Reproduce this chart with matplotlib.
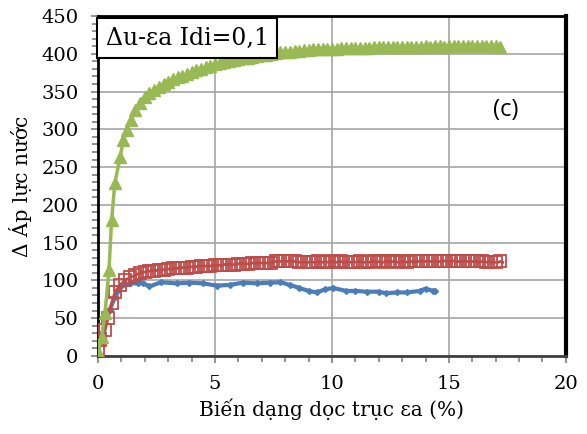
import matplotlib; matplotlib.use("Agg")
import matplotlib.pyplot as plt
import numpy as np
from matplotlib.ticker import MultipleLocator

# strain (%) vs excess pore pressure (kPa)
blue_x = [0, 0.2, 0.5, 0.73, 1.0, 1.37, 1.7, 1.94, 2.2, 2.7, 3.36, 3.9, 4.5, 5.07, 5.64,
          6.2, 6.8, 7.35, 7.8, 8.2, 8.6, 9.0, 9.35, 9.7, 10.05, 10.6, 11.0, 11.5, 12.0,
          12.3, 12.8, 13.2, 13.76, 14.0, 14.33, 14.4]
blue_y = [5, 32, 61, 78, 92, 96, 96, 96, 92, 97.5, 96, 97, 96, 93, 94,
          97, 96, 97, 97.5, 94, 90, 86, 84, 88, 90, 86, 86, 85, 85,
          83, 84, 84, 86, 89, 86, 86]

# early (sparse) readings, then readings every 0.1 % from 2.0 % on
red_x0 = [0, 0.08, 0.3, 0.43, 0.58, 0.73, 0.94, 1.15, 1.37, 1.6, 1.8]
red_y0 = [8, 21, 34, 50, 70, 85, 94, 100, 104, 107, 110]
red_y1 = [111, 112, 112, 113, 113, 113, 114, 114, 114, 115,
          115, 115, 116, 116, 116, 117, 117, 117, 117, 118,
          118, 118, 118, 119, 119, 119, 119, 119, 119, 120,
          120, 120, 120, 120, 121, 121, 121, 121, 121, 121,
          122, 122, 122, 122, 122, 122, 123, 123, 123, 123,
          123, 123, 123, 123, 123, 125, 125, 126, 125, 125,
          125, 125, 126, 125, 125, 125, 124, 124, 124, 124,
          124, 125, 124, 124, 125, 124, 124, 125, 124, 124,
          125, 124, 124, 125, 125, 124, 124, 125, 124, 125,
          124, 125, 125, 124, 124, 125, 124, 125, 125, 124,
          125, 124, 124, 125, 125, 124, 125, 125, 124, 124,
          125, 125, 124, 125, 125, 124, 125, 125, 126, 125,
          125, 126, 125, 125, 126, 125, 125, 125, 126, 125,
          125, 125, 126, 125, 125, 125, 125, 126, 125, 125,
          125, 125, 125, 124, 125, 125, 124, 125, 124, 124,
          124, 124, 125, 124]

green_x0 = [0, 0.16, 0.3, 0.47, 0.58, 0.72, 0.95, 1.08, 1.22, 1.4, 1.6, 1.8]
green_y0 = [5, 25, 57, 114, 180, 229, 264, 286, 299, 312, 325, 335]
green_y1 = [343, 346, 348, 350, 352, 354, 356, 358, 360, 361,
            363, 365, 366, 367, 369, 370, 371, 372, 373, 374,
            376, 377, 378, 379, 380, 381, 382, 383, 384, 385,
            386, 387, 388, 388, 389, 390, 390, 391, 392, 392,
            393, 393, 394, 395, 395, 396, 396, 397, 397, 398,
            398, 399, 399, 400, 400, 401, 401, 402, 402, 402,
            403, 403, 403, 404, 404, 404, 404, 405, 405, 405,
            405, 405, 406, 406, 406, 406, 406, 407, 407, 407,
            407, 407, 407, 407, 408, 408, 408, 408, 408, 408,
            408, 408, 408, 408, 408, 408, 408, 409, 409, 409,
            409, 409, 409, 409, 409, 409, 409, 409, 409, 409,
            409, 409, 409, 410, 409, 409, 409, 410, 409, 409,
            410, 409, 409, 410, 410, 409, 410, 410, 409, 410,
            410, 409, 410, 410, 410, 409, 410, 410, 410, 409,
            410, 410, 410, 409, 410, 410, 410, 409, 410, 410,
            410, 409, 409]

red_x = red_x0 + list(np.round(2.0 + 0.1 * np.arange(len(red_y1)), 2))
red_y = red_y0 + red_y1
green_x = green_x0 + list(np.round(2.0 + 0.1 * np.arange(len(green_y1)), 2))
green_y = green_y0 + green_y1

# markers on every reading early on, every second reading in the dense part
red_marks = list(range(len(red_x0))) + list(range(len(red_x0), len(red_x), 2))
green_marks = list(range(len(green_x0))) + list(range(len(green_x0), len(green_x), 2))

SERIF = "DejaVu Serif"

fig = plt.figure(figsize=(5.87, 4.34), dpi=100)
ax = fig.add_axes([0.167, 0.18, 0.797, 0.783])

ax.plot(blue_x, blue_y, color="#4a7ebb", lw=3, marker="D", ms=3, zorder=3)
ax.plot(red_x, red_y, color="#be4b48", lw=2, marker="s", ms=8.5, markevery=red_marks,
        mfc="none", mec="#be4b48", mew=1.3, zorder=4)
ax.plot(green_x, green_y, color="#98b954", lw=2.5, marker="^", ms=9, markevery=green_marks,
        mfc="#98b954", mec="#98b954", zorder=5)

ax.set_xlim(0, 20); ax.set_ylim(0, 450)
ax.xaxis.set_major_locator(MultipleLocator(5)); ax.xaxis.set_minor_locator(MultipleLocator(1))
ax.yaxis.set_major_locator(MultipleLocator(50)); ax.yaxis.set_minor_locator(MultipleLocator(10))
ax.grid(True, which="major", color="#a6a6a6", lw=1.2)
ax.set_axisbelow(True)
ax.tick_params(which="both", direction="out", color="#808080", width=1.2)
ax.tick_params(which="major", length=5, labelsize=14)
ax.tick_params(axis="x", which="major", pad=9)
ax.tick_params(axis="y", which="major", pad=9)
ax.tick_params(which="minor", length=4)
for lab in ax.get_xticklabels() + ax.get_yticklabels():
    lab.set_fontfamily(SERIF)
for s in ax.spines.values():
    s.set_color("black"); s.set_linewidth(2)
ax.spines["bottom"].set_color("#404040")
ax.spines["right"].set_linewidth(3)

ax.set_xlabel("Biến dạng dọc trục εa (%)", fontfamily=SERIF, fontsize=14.5, labelpad=4)
ax.set_ylabel("Δ Áp lực nước", fontfamily=SERIF, fontsize=14.5, labelpad=7)

ax.text(0.016, 0.968, "Δu-εa Idi=0,1", transform=ax.transAxes, fontfamily=SERIF,
        fontsize=17, va="top", ha="left", zorder=10,
        bbox=dict(boxstyle="square,pad=0.36", fc="white", ec="black", lw=1.5))
ax.text(0.872, 0.725, "(c)", transform=ax.transAxes, fontfamily="Open Sans",
        fontsize=17, ha="center", va="center")

fig.savefig("out.png", dpi=100)
